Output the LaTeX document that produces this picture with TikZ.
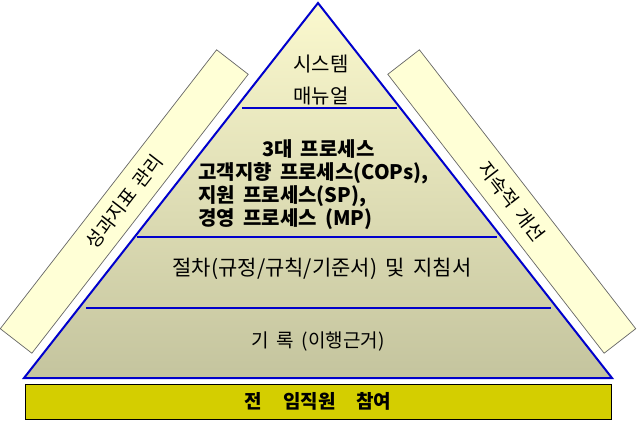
\documentclass[tikz,border=0pt]{standalone}
\usepackage{fontspec}
\setmainfont[WordSpace=1.8]{Noto Sans CJK KR}
\definecolor{pyrtop}{RGB}{251,249,206}
\definecolor{pyrbot}{RGB}{196,196,158}
\definecolor{edgeblue}{RGB}{0,0,204}
\definecolor{barfill}{RGB}{255,255,214}
\definecolor{basefill}{RGB}{212,206,0}
\begin{document}
\begin{tikzpicture}[x=1pt,y=-1pt,
  divider/.style={draw=edgeblue, line width=2pt},
  sidebar/.style={draw=black!60, fill=barfill, line width=0.7pt, minimum width=353pt, minimum height=40pt, inner sep=0pt},
  sidetext/.style={inner sep=0pt, font=\fontsize{19}{21}\selectfont},
  txt/.style={inner sep=0pt, font=\fontsize{20}{22}\selectfont},
  btxt/.style={inner sep=0pt, font=\fontsize{20}{20.5}\selectfont\bfseries}]
\useasboundingbox (0,0) rectangle (638,421);
% side bars
\node[sidebar, rotate=52.2] (lbar) at (124.25,201.5) {};
\node[sidebar, rotate=-52.2] (rbar) at (511.75,201.5) {};
\node[sidetext, rotate=52.2] (ltext) at (lbar.center) {성과지표 관리};
\node[sidetext, rotate=-52.2] (rtext) at (rbar.center) {지속적 개선};
% pyramid
\shade[top color=pyrtop, bottom color=pyrbot] (318,3) -- (612,378) -- (24,378) -- cycle;
\draw[divider] (242,108) -- (397,108);
\draw[divider] (137,237) -- (497,237);
\draw[divider] (86,308) -- (551,308);
\draw[draw=edgeblue, line width=2pt] (318,3) -- (612,378) -- (24,378) -- cycle;
% texts
\node[txt] (sys) at (321,64) {시스템};
\node[txt] (man) at (321,96) {매뉴얼};
\node[btxt, anchor=west] (proc3) at (198,186) {\renewcommand{\arraystretch}{1}\begin{tabular}{@{}l@{}}
\multicolumn{1}{@{}c@{}}{\hspace{10pt}3대 프로세스}\\
고객지향 프로세스(COPs),\\
지원 프로세스(SP),\\
경영 프로세스 (MP)
\end{tabular}};
\node[txt, font=\fontsize{21}{23}\selectfont] (proc) at (322,269) {절차(규정/규칙/기준서) 및 지침서};
\node[txt, font=\fontsize{19}{21}\selectfont] (rec) at (318,341) {기 록 (이행근거)};
% base bar
\node[draw=black, fill=basefill, line width=0.8pt, minimum width=586pt, minimum height=35pt, inner sep=0pt, font=\fontsize{19}{21}\selectfont\bfseries] (base) at (318,401.5) {전\hspace{1.1em}임직원\hspace{1.1em}참여};
\end{tikzpicture}
\end{document}
